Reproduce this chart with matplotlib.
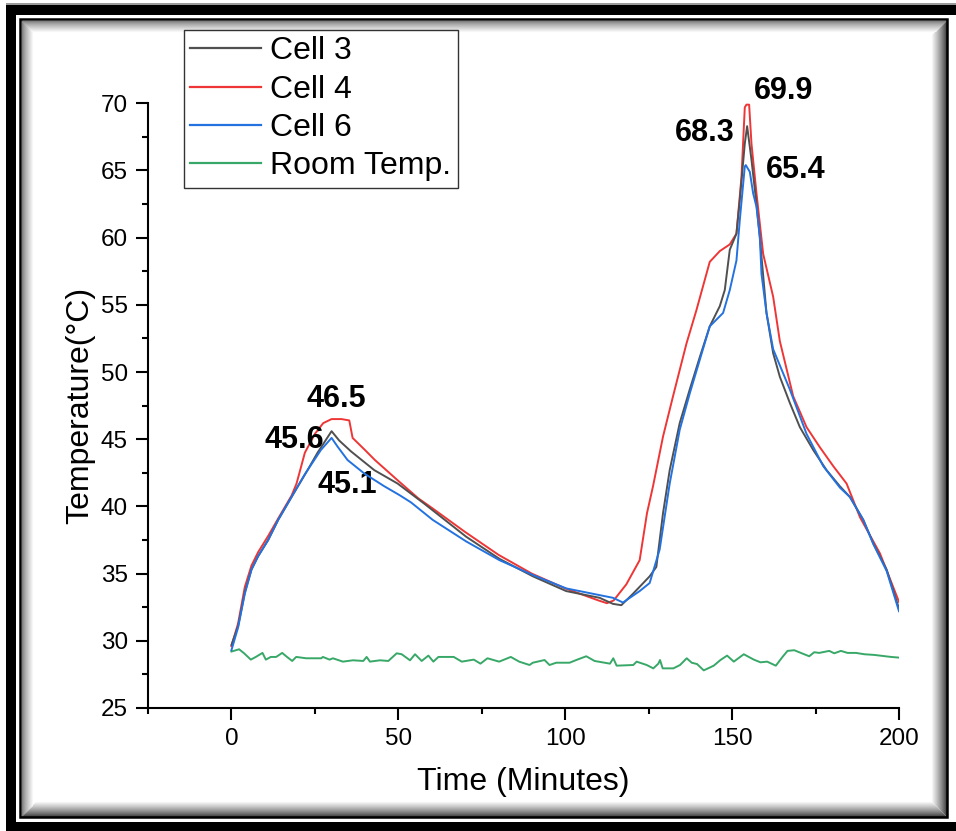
import matplotlib
matplotlib.use("Agg")
import matplotlib.pyplot as plt
from matplotlib.patches import Rectangle
from matplotlib.lines import Line2D
from matplotlib.ticker import MultipleLocator

plt.rcParams['font.family'] = ['Liberation Sans', 'DejaVu Sans']

# ---------------- data ----------------
t_cell3 = [0, 2, 4, 6, 8, 11, 14, 18, 22.8, 25.8, 30, 32.3, 35.8, 42.8, 49.8, 57.8, 70.3, 80.3, 90.3, 100.3,
           110.3, 114.3, 116.8, 120.3, 125.3, 127.3, 129.3, 131.3, 134.3, 137.3, 140.3, 143.3, 146.3, 147.8,
           149.3, 151.3, 152.3, 153.8, 154.5, 155.8, 157.3, 158.3, 160.3, 162.3, 164.3, 167.3, 170.3, 174.3,
           178.3, 182.3, 185.3, 189.3, 192.3, 196.3, 200]
T_cell3 = [29.7, 31.1, 33.6, 35.3, 36.3, 37.5, 39.0, 40.7, 42.7, 44.0, 45.6, 44.9, 44.1, 42.7, 41.7, 40.2, 37.75,
           36.1, 34.8, 33.7, 33.2, 32.75, 32.65, 33.5, 34.8, 35.5, 39.5, 42.7, 46.2, 48.7, 51.1, 53.4, 54.9, 56.1,
           59.1, 60.3, 62.8, 67.0, 68.3, 65.8, 62.5, 60.0, 54.4, 51.4, 49.65, 47.7, 45.9, 44.2, 42.7, 41.5, 40.7,
           39.0, 37.25, 35.3, 32.4]

t_cell4 = [0, 2, 4, 6, 8, 11, 14, 18, 19.5, 22, 25, 27.5, 30, 33, 35.3, 36.3, 40, 43, 50, 56, 60, 70, 80, 90,
           100, 110, 112.5, 114.5, 118.3, 122.3, 124.5, 126.3, 129.3, 132.3, 136.3, 139.3, 141.3, 143.3, 146.3,
           149.3, 151.3, 152.8, 153.8, 154.3, 155.1, 155.8, 157.3, 159.3, 162.3, 164.3, 168.3, 172.3, 176.3,
           180.3, 184.3, 188.3, 194.3, 200]
T_cell4 = [29.6, 31.3, 34.0, 35.6, 36.6, 37.8, 39.1, 40.8, 41.7, 44.0, 45.4, 46.2, 46.5, 46.5, 46.4, 45.1, 44.2,
           43.45, 41.9, 40.6, 39.9, 38.1, 36.4, 35.0, 33.9, 33.0, 32.8, 33.0, 34.2, 36.0, 39.5, 41.5, 45.2, 48.2,
           52.1, 54.6, 56.4, 58.2, 59.0, 59.5, 60.3, 64.5, 69.7, 69.9, 69.9, 67.0, 63.3, 58.8, 55.6, 52.3, 48.2,
           45.9, 44.4, 43.0, 41.7, 39.2, 36.5, 32.9]

t_cell6 = [0, 2, 4, 6, 8, 11, 14, 18, 22, 26.8, 30, 31.8, 34.8, 39.8, 45.8, 50.3, 53.8, 60.3, 70.3, 80.3, 90.3,
           100.3, 110.3, 114.3, 117.3, 122.3, 125.3, 128.3, 131.3, 134.3, 137.3, 140.3, 143.3, 147.3, 149.3,
           151.3, 152.3, 153.8, 154.1, 155.3, 156.3, 157.3, 158.3, 158.8, 160.3, 162.3, 167.3, 172.3, 177.3,
           182.3, 185.3, 189.3, 192.3, 196.3, 200]
T_cell6 = [29.3, 31.0, 33.5, 35.3, 36.3, 37.5, 39.0, 40.7, 42.4, 44.2, 45.1, 44.45, 43.45, 42.45, 41.5, 40.85,
           40.3, 39.0, 37.4, 36.0, 34.9, 33.9, 33.4, 33.2, 32.85, 33.7, 34.3, 36.8, 41.7, 45.7, 48.4, 50.9, 53.4,
           54.4, 56.1, 58.3, 61.3, 65.3, 65.4, 64.9, 63.3, 62.3, 60.1, 57.3, 54.4, 51.7, 48.7, 45.4, 43.0, 41.4,
           40.7, 39.0, 37.2, 35.2, 32.2]

t_room = [0, 2.3, 3.8, 5.8, 7.3, 9.3, 10.3, 11.8, 13.4, 15.2, 16.4, 18.2, 19.4, 22.4, 26.9, 27.4, 29.4, 30.4,
          33.4, 36.4, 39.5, 40.5, 41.5, 44.5, 47, 49.5, 51, 53.5, 55, 57, 59, 60.5, 62, 66.6, 69, 72.6, 74.6,
          76.7, 80.2, 83.7, 86.2, 89.3, 90.3, 93.8, 95.3, 97.3, 101.3, 103.3, 106.3, 108.8, 113.4, 114.4, 115.4,
          120.4, 121.4, 124.4, 126.4, 127.9, 128.4, 129.2, 132.4, 134.4, 136.4, 137.9, 139.5, 141.5, 144.5,
          146.5, 148.5, 150.5, 153.5, 156.5, 158.5, 160.5, 163.1, 165.1, 166.6, 168.6, 170.6, 173.1, 174.6,
          176.1, 179.1, 180.6, 182.6, 184.6, 187.1, 189.6, 192.6, 197.6, 200]
T_room = [29.2, 29.37, 29.07, 28.6, 28.8, 29.1, 28.6, 28.8, 28.8, 29.1, 28.85, 28.5, 28.8, 28.7, 28.7, 28.8,
          28.6, 28.7, 28.45, 28.55, 28.5, 28.8, 28.45, 28.55, 28.5, 29.07, 29.0, 28.55, 29.0, 28.5, 28.9, 28.45,
          28.8, 28.8, 28.45, 28.6, 28.3, 28.7, 28.45, 28.8, 28.45, 28.2, 28.37, 28.57, 28.2, 28.37, 28.37, 28.57,
          28.85, 28.5, 28.3, 28.7, 28.15, 28.2, 28.45, 28.2, 27.95, 28.3, 28.57, 27.95, 27.95, 28.2, 28.7, 28.37,
          28.27, 27.8, 28.15, 28.57, 28.9, 28.45, 29.0, 28.6, 28.4, 28.45, 28.15, 28.8, 29.25, 29.3, 29.1, 28.85,
          29.15, 29.1, 29.25, 29.07, 29.25, 29.1, 29.1, 29.0, 28.95, 28.8, 28.75]

series_labels = ["Cell 3", "Cell 4", "Cell 6", "Room Temp."]
series_colors = ["#505050", "#ee3636", "#2372e0", "#38a868"]

annot_text = ["46.5", "45.6", "45.1", "68.3", "69.9", "65.4"]
annot_x = [31.3, 18.8, 34.6, 141.8, 165.4, 169.1]
annot_y = [48.0, 44.94, 41.6, 67.8, 70.9, 65.0]

# ---------------- figure ----------------
W, H = 956, 831
fig = plt.figure(figsize=(W / 100, H / 100), dpi=100)
fig.patch.set_facecolor("white")


def frect(x0, y0, x1, y1, z=-5, **kw):
    r = Rectangle((x0 / W, 1 - y1 / H), (x1 - x0) / W, (y1 - y0) / H,
                  transform=fig.transFigure, zorder=z, **kw)
    fig.patches.append(r)


def fline(xs, ys, color, lw=0.75):
    ln = Line2D([x / W for x in xs], [1 - y / H for y in ys], transform=fig.transFigure,
                color=color, lw=lw, zorder=-4, solid_capstyle='butt')
    fig.lines.append(ln)


# decorative frame
frect(6, 3, 956, 5, facecolor="#9a9a9a", edgecolor="none")
frect(6, 5, 956, 831, facecolor="black", edgecolor="none")
frect(16, 15, 956, 822, facecolor="white", edgecolor="none")
# inner shadows (mitred at the corners)
L, T, R, B = 21, 20, 946, 816
n2 = 15
for i in range(n2):
    g = 0.22 + 0.78 * (i / n2) ** 0.8
    c = (g, g, g)
    fline([R - 0.5 - i, R - 0.5 - i], [T + i, B - i], c)
    fline([L + i, R - i], [B - 0.5 - i, B - 0.5 - i], c)
n1 = 11
for i in range(n1):
    g = 0.5 + 0.5 * (i / n1) ** 0.8
    c = (g, g, g)
    fline([L + 0.5 + i, L + 0.5 + i], [T + i, B - i], c)
    fline([L + i, R - i], [T + 0.5 + i, T + 0.5 + i], c)
frect(L - 1, T - 1, R + 1, B + 1, z=-3, facecolor="none", edgecolor="black", linewidth=1.8)

# main axes
ax = fig.add_axes([148 / W, 1 - 708 / H, (899 - 148) / W, (708 - 103.3) / H])
ax.set_facecolor("none")

ax.plot(t_cell3, T_cell3, color=series_colors[0], lw=1.4, label=series_labels[0], zorder=3)
ax.plot(t_cell4, T_cell4, color=series_colors[1], lw=1.4, label=series_labels[1], zorder=2)
ax.plot(t_cell6, T_cell6, color=series_colors[2], lw=1.4, label=series_labels[2], zorder=4)
ax.plot(t_room, T_room, color=series_colors[3], lw=1.4, label=series_labels[3], zorder=2)

for s, x, y in zip(annot_text, annot_x, annot_y):
    ax.text(x, y, s, fontsize=22, fontweight="bold", ha="center", va="center", color="black")

ax.set_xlim(-25, 200)
ax.set_ylim(25, 70)
ax.xaxis.set_major_locator(MultipleLocator(50))
ax.xaxis.set_minor_locator(MultipleLocator(25))
ax.yaxis.set_major_locator(MultipleLocator(5))
ax.yaxis.set_minor_locator(MultipleLocator(2.5))
ax.set_xticks([0, 50, 100, 150, 200])

for sp in ["top", "right"]:
    ax.spines[sp].set_visible(False)
for sp in ["left", "bottom"]:
    ax.spines[sp].set_linewidth(1.5)

ax.tick_params(which="major", direction="out", length=8.5, width=1.5, labelsize=17.5, pad=6)
ax.tick_params(which="minor", direction="out", length=4.3, width=1.5)

ax.set_xlabel("Time (Minutes)", fontsize=23, labelpad=12)
ax.set_ylabel("Temperature(\u00b0C)", fontsize=23, labelpad=4)

leg = ax.legend(loc="upper left", bbox_to_anchor=(184 / W, 1 - 30 / H),
                bbox_transform=fig.transFigure, fontsize=23, frameon=True, fancybox=False,
                shadow=False, borderaxespad=0, borderpad=0.2, handlelength=2.2,
                handletextpad=0.3, labelspacing=0.26)
leg.get_frame().set_edgecolor("black")
leg.get_frame().set_linewidth(1.0)
for ln in leg.get_lines():
    ln.set_linewidth(1.6)

fig.savefig("out.png", dpi=100)
